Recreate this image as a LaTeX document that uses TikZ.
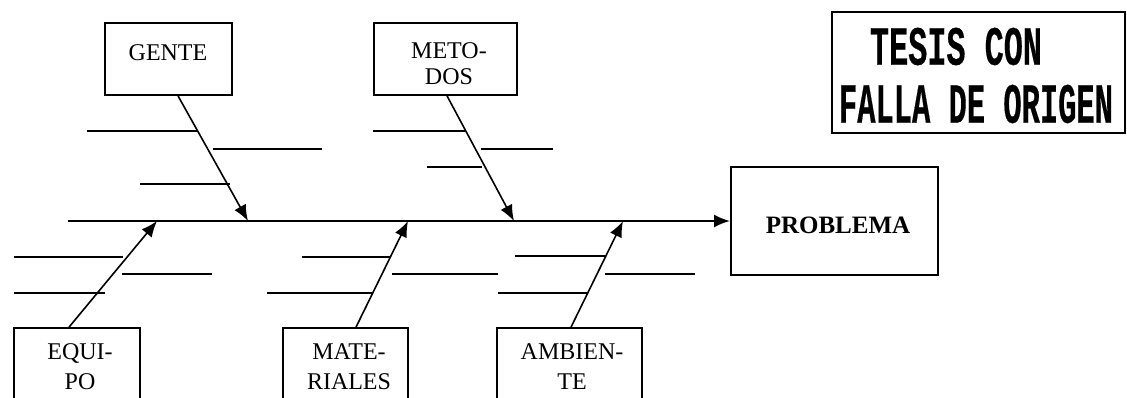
\documentclass[tikz,border=0pt]{standalone}
\usepackage{fontspec}
\setmainfont{Liberation Serif}
\newfontfamily\stampfont[FakeBold=0.5]{Liberation Mono}
\usepackage{graphicx}
\usetikzlibrary{arrows.meta}

\begin{document}
\begin{tikzpicture}[x=1pt,y=-1pt,
  box/.style={draw, rectangle, line width=1.7pt, inner sep=0pt},
  lbl/.style={inner sep=0pt, anchor=north, align=center,
              font=\fontsize{24}{26}\selectfont},
  lblb/.style={lbl, font=\fontsize{24}{30}\selectfont},
  tip/.style={-{Latex[length=16pt,width=13pt]}},
  spine/.style={line width=2.3pt, tip},
  cause/.style={line width=1.6pt, tip},
  bone/.style={line width=2pt},
]
% page frame (the lower boxes run past the bottom edge)
\path[use as bounding box, clip] (0,0) rectangle (1127,397);

% ---- effect box ----
\node[box, minimum width=207pt, minimum height=108pt] (problema) at (834.5,221) {};
\node[inner sep=0pt, anchor=north, font=\fontsize{25}{28}\selectfont\bfseries]
  (problema-t) at (838,217) {PROBLEMA};

% ---- cause boxes, upper row ----
\node[box, minimum width=127pt, minimum height=72pt] (gente) at (168.5,59) {};
\node[lbl] (gente-t) at (168,44) {GENTE};

\node[box, minimum width=143pt, minimum height=72pt] (metodos) at (445.5,59) {};
\node[lbl] (metodos-t) at (449,42) {METO-\\DOS};

% ---- cause boxes, lower row ----
\node[box, minimum width=126pt, minimum height=80pt] (equipo) at (77,368) {};
\node[lblb] (equipo-t) at (80,343) {EQUI-\\PO};

\node[box, minimum width=125pt, minimum height=80pt] (materiales) at (345.5,368) {};
\node[lblb] (materiales-t) at (349,343) {MATE-\\RIALES};

\node[box, minimum width=145pt, minimum height=80pt] (ambiente) at (569.5,368) {};
\node[lblb] (ambiente-t) at (572,343) {AMBIEN-\\TE};

% ---- stamp ----
\node[box, line width=2.2pt, minimum width=293pt, minimum height=121pt] (sello) at (978.5,72.5) {};
\node[inner sep=0pt] (sello-a) at (956,46.5)
  {\resizebox{172pt}{37pt}{\stampfont\bfseries TESIS CON}};
\node[inner sep=0pt] (sello-b) at (976,104)
  {\resizebox{274pt}{38pt}{\stampfont\bfseries FALLA DE ORIGEN}};

% ---- spine ----
\coordinate (cola) at (68,221);
\draw[spine] (cola) -- (problema.west);

% ---- cause arrows meeting the spine ----
\coordinate (pG) at (248,221);
\coordinate (pM) at (514,221);
\coordinate (pE) at (157,221);
\coordinate (pR) at (408,221);
\coordinate (pA) at (623,221);
\draw[cause] ([xshift=9.5pt]gente.south)      -- (pG);
\draw[cause] ([xshift=1.5pt]metodos.south)    -- (pM);
\draw[cause] ([xshift=-8pt]equipo.north)      -- (pE);
\draw[cause] ([xshift=10.5pt]materiales.north) -- (pR);
\draw[cause] ([xshift=1.5pt]ambiente.north)   -- (pA);

% ---- sub-cause bones ----
\draw[bone] (87,131) -- (197,131)  (213,149) -- (322,149)  (140,184) -- (230,184);
\draw[bone] (373,131) -- (465,131) (481,149) -- (553,149)  (427,167) -- (482,167);
\draw[bone] (14,257) -- (123,257)  (122,274) -- (212,274)  (14,293) -- (105,293);
\draw[bone] (302,257) -- (390,257) (392,274) -- (498,274)  (267,293) -- (373,293);
\draw[bone] (515,256) -- (605,256) (605,274) -- (695,274)  (498,293) -- (588,293);
\end{tikzpicture}
\end{document}
